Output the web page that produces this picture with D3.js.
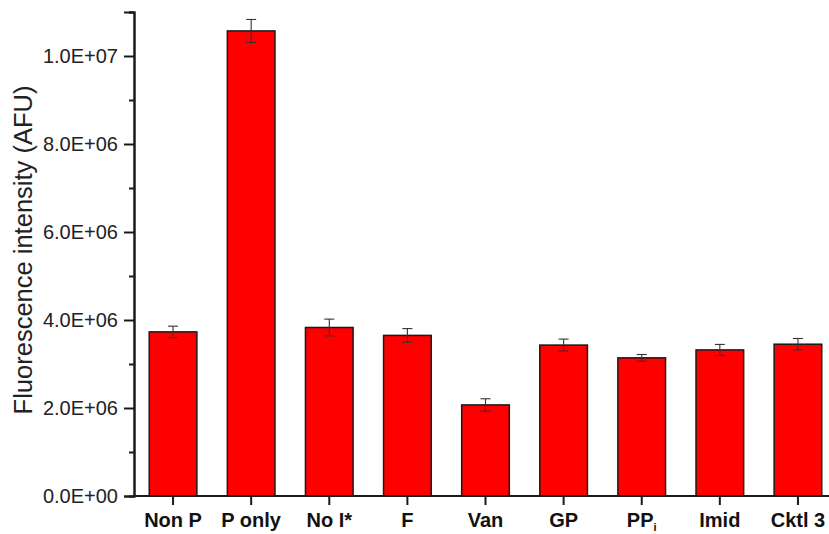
<!DOCTYPE html>
<html>
<head>
<meta charset="utf-8">
<script src="https://cdn.jsdelivr.net/npm/d3@7"></script>
<style>
  html, body { margin: 0; padding: 0; background: #fff; }
  svg { display: block; font-family: "Liberation Sans", Arial, sans-serif; }
</style>
</head>
<body>
<svg id="chart" width="829" height="534"></svg>
<script>
// Conditions (an underscore marks a subscript part of the label)
const categories = ["Non P", "P only", "No I*", "F", "Van", "GP", "PP_i", "Imid", "Cktl 3"];
// Mean fluorescence intensity (AFU)
const means = [3.73e6, 10.57e6, 3.83e6, 3.65e6, 2.07e6, 3.43e6, 3.14e6, 3.32e6, 3.45e6];
// Error bar half-lengths (AFU)
const errors = [0.13e6, 0.26e6, 0.19e6, 0.155e6, 0.14e6, 0.136e6, 0.076e6, 0.125e6, 0.13e6];
// Y-axis ticks
const majorTicks = [0, 2e6, 4e6, 6e6, 8e6, 10e6];
const minorTicks = [1e6, 3e6, 5e6, 7e6, 9e6, 11e6];
const yMax = 11e6;

const svg = d3.select("#chart");
const plot = { left: 134, right: 837, top: 12, bottom: 496 };

const x = d3.scaleBand()
  .domain(categories)
  .range([plot.left, plot.right])
  .paddingInner(0.39)
  .paddingOuter(0.195);

const y = d3.scaleLinear().domain([0, yMax]).range([plot.bottom, plot.top]);

// Scientific notation like 2.0E+06
function sci(v) {
  if (v === 0) return "0.0E+00";
  const e = Math.floor(Math.log10(Math.abs(v)));
  const m = v / Math.pow(10, e);
  const sign = e < 0 ? "-" : "+";
  return m.toFixed(1) + "E" + sign + String(Math.abs(e)).padStart(2, "0");
}

const ink = "#1a1a1a";

// Bars
svg.append("g")
  .selectAll("rect")
  .data(categories)
  .join("rect")
  .attr("x", d => x(d))
  .attr("width", x.bandwidth())
  .attr("y", (d, i) => y(means[i]))
  .attr("height", (d, i) => y(0) - y(means[i]))
  .attr("fill", "#ff0000")
  .attr("stroke", ink)
  .attr("stroke-width", 1.5);

// Error bars
const eb = svg.append("g")
  .attr("stroke", "#333")
  .attr("stroke-width", 1.1)
  .attr("fill", "none");
const cap = 5;
categories.forEach((c, i) => {
  const cx = x(c) + x.bandwidth() / 2;
  const hi = y(means[i] + errors[i]);
  const lo = y(means[i] - errors[i]);
  eb.append("line").attr("x1", cx).attr("x2", cx).attr("y1", hi).attr("y2", lo);
  eb.append("line").attr("x1", cx - cap).attr("x2", cx + cap).attr("y1", hi).attr("y2", hi);
  eb.append("line").attr("x1", cx - cap).attr("x2", cx + cap).attr("y1", lo).attr("y2", lo);
});

// Y axis with major and minor ticks
const yAxisMajor = d3.axisLeft(y).tickValues(majorTicks).tickSize(10).tickPadding(6).tickFormat(sci);
const yAxisMinor = d3.axisLeft(y).tickValues(minorTicks).tickSize(5).tickFormat("");

const gyMinor = svg.append("g").attr("transform", `translate(${plot.left},0)`).call(yAxisMinor);
const gy = svg.append("g").attr("transform", `translate(${plot.left},0)`).call(yAxisMajor);
[gy, gyMinor].forEach(g => {
  g.select(".domain").attr("stroke", ink).attr("stroke-width", 2);
  g.selectAll(".tick line").attr("stroke", ink).attr("stroke-width", 2);
});
gy.selectAll(".tick text")
  .attr("font-size", 20)
  .attr("fill", "#222")
  .style("font-family", "'Liberation Sans', Arial, sans-serif");

// X axis
const xAxis = d3.axisBottom(x).tickSize(9).tickPadding(8).tickFormat("");
const gx = svg.append("g").attr("transform", `translate(0,${plot.bottom})`).call(xAxis);
gx.select(".domain").attr("stroke", ink).attr("stroke-width", 2)
  .attr("d", `M${plot.left},0H${plot.right}`);
gx.selectAll(".tick line").attr("stroke", ink).attr("stroke-width", 2);

// Category labels (bold, with optional subscript)
const labels = svg.append("g")
  .attr("font-size", 20)
  .attr("font-weight", "bold")
  .attr("fill", "#111")
  .attr("text-anchor", "middle");
categories.forEach(c => {
  const parts = c.split("_");
  const t = labels.append("text")
    .attr("x", x(c) + x.bandwidth() / 2)
    .attr("y", 527);
  t.append("tspan").text(parts[0]);
  if (parts.length > 1) {
    t.append("tspan")
      .attr("font-size", 11)
      .attr("dy", 4)
      .text(parts[1]);
  }
});

// Y-axis title
svg.append("text")
  .attr("transform", `translate(32,${(plot.top + plot.bottom) / 2 - 4}) rotate(-90)`)
  .attr("text-anchor", "middle")
  .attr("font-size", 25.5)
  .attr("fill", "#222")
  .text("Fluorescence intensity (AFU)");
</script>
</body>
</html>
